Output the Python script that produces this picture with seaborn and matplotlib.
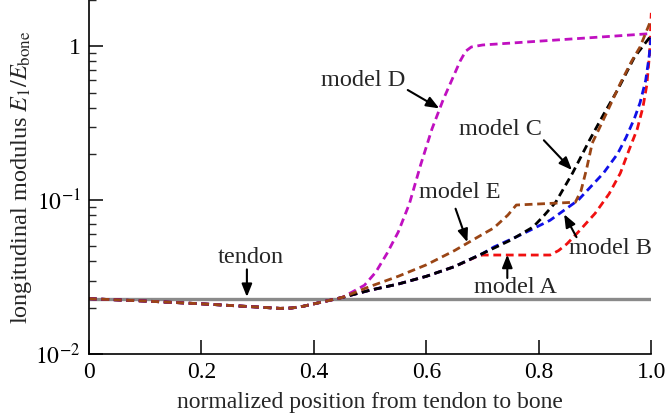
import numpy as np
import pandas as pd
import matplotlib
matplotlib.use("Agg")
import matplotlib.pyplot as plt
import seaborn as sns

# shared part of every model curve (tendon side)
base_x = [0.0, 0.1, 0.2, 0.3, 0.34, 0.36, 0.38, 0.42, 0.45]
base_y = [0.0229, 0.0221, 0.0212, 0.0202, 0.0198, 0.0199, 0.0204, 0.0220, 0.0233]

a_x = [0.5, 0.55, 0.6, 0.65, 0.69, 0.7, 0.82, 0.835, 0.85, 0.87, 0.9, 0.925, 0.945,
       0.96, 0.975, 0.985, 0.992, 0.997, 1.0]
a_y = [0.026, 0.0285, 0.032, 0.037, 0.043, 0.044, 0.044, 0.047, 0.052, 0.062, 0.082,
       0.11, 0.15, 0.21, 0.29, 0.40, 0.56, 0.9, 1.65]

b_x = [0.5, 0.55, 0.6, 0.65, 0.7, 0.72, 0.77, 0.82, 0.87, 0.915, 0.94, 0.955, 0.97,
       0.98, 0.99, 0.996, 1.0]
b_y = [0.026, 0.0285, 0.032, 0.037, 0.045, 0.0496, 0.06, 0.074, 0.1, 0.15, 0.2, 0.255,
       0.34, 0.43, 0.6, 0.85, 1.2]

c_x = [0.5, 0.55, 0.6, 0.65, 0.7, 0.75, 0.79, 0.81, 0.83, 0.86, 0.89, 0.915, 0.94,
       0.97, 1.0]
c_y = [0.026, 0.0285, 0.032, 0.037, 0.045, 0.055, 0.067, 0.08, 0.097, 0.15, 0.245,
       0.36, 0.52, 0.85, 1.18]

d_x = [0.47, 0.49, 0.51, 0.53, 0.55, 0.57, 0.59, 0.61, 0.63, 0.65, 0.66, 0.67, 0.68,
       0.7, 1.0]
d_y = [0.0255, 0.028, 0.034, 0.045, 0.062, 0.095, 0.17, 0.29, 0.45, 0.66, 0.8, 0.93,
       0.99, 1.02, 1.21]

e_x = [0.5, 0.55, 0.6, 0.65, 0.7, 0.72, 0.745, 0.76, 0.865, 0.875, 0.885, 0.895, 0.905,
       0.925, 0.945, 0.965, 0.98, 1.0]
e_y = [0.0275, 0.032, 0.038, 0.047, 0.06, 0.066, 0.08, 0.093, 0.097, 0.115, 0.16, 0.235,
       0.28, 0.40, 0.575, 0.8, 0.99, 1.5]

tendon_x = [0.0, 1.0]
tendon_y = [0.0229, 0.0229]

models = {
    "model A": (a_x, a_y),
    "model B": (b_x, b_y),
    "model C": (c_x, c_y),
    "model D": (d_x, d_y),
    "model E": (e_x, e_y),
}
colors = {
    "model A": "#f01010",
    "model B": "#1010e8",
    "model C": "#000000",
    "model D": "#c010c0",
    "model E": "#9a4515",
}

rows = []
for name, (xs, ys) in models.items():
    for x, y in zip(base_x + xs, base_y + ys):
        rows.append({"pos": x, "E": y, "model": name})
df = pd.DataFrame(rows)

sns.set_theme(style="ticks")
plt.rcParams["font.family"] = ["Liberation Serif", "DejaVu Serif"]
plt.rcParams["mathtext.fontset"] = "stix"

fig = plt.figure(figsize=(6.68, 4.17), dpi=100)
ax = fig.add_axes([0.133, 0.151, 0.842, 0.849])

ax.plot(tendon_x, tendon_y, color="#8a8a8a", lw=2.4, solid_capstyle="butt")
sns.lineplot(data=df, x="pos", y="E", hue="model", style="model",
             palette=colors, dashes={m: (2.8, 1.7) for m in models},
             estimator=None, sort=False, lw=2.0, legend=False, ax=ax)

ax.set_yscale("log")
ax.set_xlim(0, 1.0)
ax.set_ylim(0.01, 2.0)
ax.set_xticks([0, 0.2, 0.4, 0.6, 0.8, 1.0])
ax.set_xticklabels(["0", "0.2", "0.4", "0.6", "0.8", "1.0"])
ax.set_yticks([0.01, 0.1, 1])
ax.set_yticklabels(["$10^{-2}$", "$10^{-1}$", "1"])
ax.tick_params(axis="both", which="major", direction="in", length=10, width=1.1,
               labelsize=17, pad=6, colors="black")
ax.tick_params(axis="y", which="minor", direction="in", length=5, width=1.0)
sns.despine(ax=ax)
for s in ["left", "bottom"]:
    ax.spines[s].set_linewidth(1.2)
    ax.spines[s].set_color("black")

ax.set_xlabel("normalized position from tendon to bone", fontsize=17, labelpad=6)
ax.set_ylabel("longitudinal modulus $E_1/E_{\\rm bone}$", fontsize=17.5, labelpad=1)

arrow = dict(arrowstyle="-|>,head_length=0.55,head_width=0.22", color="black",
             lw=1.5, mutation_scale=14, shrinkA=0, shrinkB=0)
fs = 17.5
ax.annotate("", xy=(0.281, 0.0235), xytext=(0.281, 0.0355), arrowprops=arrow)
ax.text(0.288, 0.0425, "tendon", fontsize=fs, ha="center", va="center")

ax.annotate("", xy=(0.623, 0.395), xytext=(0.567, 0.52), arrowprops=arrow)
ax.text(0.488, 0.60, "model D", fontsize=fs, ha="center", va="center")

ax.annotate("", xy=(0.859, 0.157), xytext=(0.809, 0.245), arrowprops=arrow)
ax.text(0.732, 0.29, "model C", fontsize=fs, ha="center", va="center")

ax.annotate("", xy=(0.673, 0.0533), xytext=(0.652, 0.088), arrowprops=arrow)
ax.text(0.659, 0.113, "model E", fontsize=fs, ha="center", va="center")

ax.annotate("", xy=(0.845, 0.081), xytext=(0.867, 0.0575), arrowprops=arrow)
ax.text(0.928, 0.0488, "model B", fontsize=fs, ha="center", va="center")

ax.annotate("", xy=(0.744, 0.0442), xytext=(0.744, 0.0312), arrowprops=arrow)
ax.text(0.758, 0.0272, "model A", fontsize=fs, ha="center", va="center")

fig.savefig("out.png", dpi=100)
